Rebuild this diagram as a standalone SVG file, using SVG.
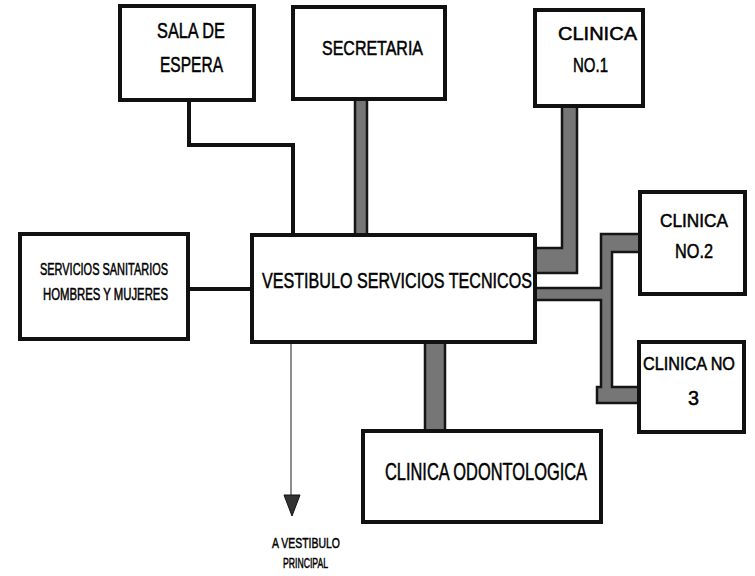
<svg xmlns="http://www.w3.org/2000/svg" width="755" height="576" viewBox="0 0 755 576">
<style>
.box{fill:#fff;stroke:#111;stroke-width:4}
.lbl{font-family:"Liberation Sans Narrow","Liberation Sans",Arial,sans-serif;fill:#000;stroke:#000;stroke-width:0.5}
.thin{fill:none;stroke:#111;stroke-width:4;stroke-linejoin:miter}
.thick{fill:#767676;stroke:#151515;stroke-width:2.5;stroke-linejoin:miter}
.arrowline{fill:none;stroke:#444;stroke-width:1.2}
</style>
<rect width="755" height="576" fill="#fff"/>
<g id="connectors">
<path class="thin" d="M189,100 V145 H293 V235"/>
<path class="thin" d="M188,289 H252"/>
<rect class="thick" x="355" y="99" width="12" height="136"/>
<path class="thick" d="M562,106 H577 V273 H535 V248 H562 Z" fill="#666"/>
<path class="thick" d="M535,288 H601 V234 H640 V252 H612 V387 H639 V403 H597 V387 H601 V300 H535 Z"/>
<rect class="thick" x="425" y="342" width="20" height="89"/>
<path class="arrowline" d="M291,343 V497"/>
<path d="M284,495 H300 L292,516 Z" fill="#333" stroke="#111" stroke-width="1"/>
</g>
<g id="sala-espera">
<rect class="box" x="120" y="6" width="134" height="94"/>
<text class="lbl" x="157" y="38" font-size="22" textLength="68" lengthAdjust="spacingAndGlyphs">SALA DE</text>
<text class="lbl" x="160" y="72" font-size="22" textLength="63" lengthAdjust="spacingAndGlyphs">ESPERA</text>
</g>
<g id="secretaria">
<rect class="box" x="293" y="7" width="152" height="92"/>
<text class="lbl" x="322" y="55" font-size="21" textLength="101" lengthAdjust="spacingAndGlyphs">SECRETARIA</text>
</g>
<g id="clinica1">
<rect class="box" x="535" y="10" width="108" height="96"/>
<text class="lbl" x="558" y="40" font-size="19" textLength="79" lengthAdjust="spacingAndGlyphs">CLINICA</text>
<text class="lbl" x="573" y="72" font-size="20" textLength="35" lengthAdjust="spacingAndGlyphs">NO.1</text>
</g>
<g id="clinica2">
<rect class="box" x="640" y="192" width="105" height="102"/>
<text class="lbl" x="660" y="227" font-size="19" textLength="68" lengthAdjust="spacingAndGlyphs">CLINICA</text>
<text class="lbl" x="675" y="258" font-size="20" textLength="38" lengthAdjust="spacingAndGlyphs">NO.2</text>
</g>
<g id="clinica3">
<rect class="box" x="639" y="342" width="105" height="90"/>
<text class="lbl" x="643" y="370" font-size="19" textLength="92" lengthAdjust="spacingAndGlyphs">CLINICA NO</text>
<text class="lbl" x="688" y="405" font-size="20" textLength="11" lengthAdjust="spacingAndGlyphs">3</text>
</g>
<g id="servicios">
<rect class="box" x="20" y="234" width="168" height="105"/>
<text class="lbl" x="40" y="275" font-size="16" textLength="128" lengthAdjust="spacingAndGlyphs">SERVICIOS SANITARIOS</text>
<text class="lbl" x="43" y="300" font-size="16" textLength="125" lengthAdjust="spacingAndGlyphs">HOMBRES Y MUJERES</text>
</g>
<g id="vestibulo">
<rect class="box" x="252" y="235" width="283" height="107"/>
<text class="lbl" x="262" y="288" font-size="22" textLength="270" lengthAdjust="spacingAndGlyphs">VESTIBULO SERVICIOS TECNICOS</text>
</g>
<g id="odontologica">
<rect class="box" x="363" y="431" width="238" height="91"/>
<text class="lbl" x="385" y="480" font-size="24" textLength="202" lengthAdjust="spacingAndGlyphs">CLINICA ODONTOLOGICA</text>
</g>
<g id="vestibulo-principal">
<text class="lbl" x="272" y="548" font-size="15" textLength="68" lengthAdjust="spacingAndGlyphs">A VESTIBULO</text>
<text class="lbl" x="283" y="568" font-size="15" textLength="45" lengthAdjust="spacingAndGlyphs">PRINCIPAL</text>
</g>
</svg>
